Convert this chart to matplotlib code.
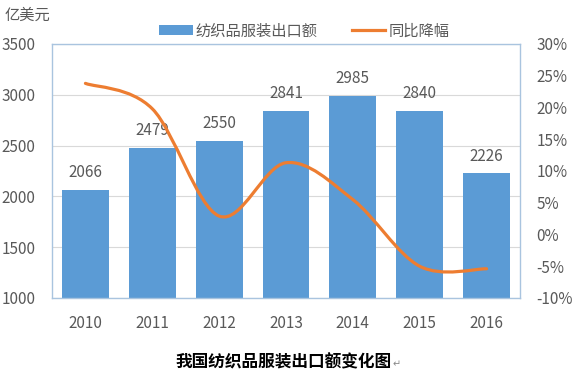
import numpy as np
import matplotlib
matplotlib.use("Agg")
import matplotlib.pyplot as plt
from matplotlib.path import Path
from matplotlib.patches import PathPatch
from matplotlib.lines import Line2D
from matplotlib.patches import Patch

plt.rcParams['font.family'] = ['Noto Sans CJK SC', 'DejaVu Sans']

years = ['2010', '2011', '2012', '2013', '2014', '2015', '2016']
exports = [2066, 2479, 2550, 2841, 2985, 2840, 2226]
growth = [23.8, 19.8, 2.9, 11.3, 5.5, -5.0, -5.4]

BLUE = '#5B9BD5'
ORANGE = '#ED7D31'
GREY = '#595959'
FRAME = '#A9C4DF'


def smooth_path(xs, ys):
    # excel-like smoothed line: bezier segments through each point
    pts = np.column_stack([xs, ys]).astype(float)
    n = len(pts)
    verts = [pts[0]]
    codes = [Path.MOVETO]
    for i in range(n - 1):
        p0 = pts[max(i - 1, 0)]
        p1 = pts[i]
        p2 = pts[i + 1]
        p3 = pts[min(i + 2, n - 1)]
        c1 = p1 + (p2 - p0) / 6.0
        c2 = p2 - (p3 - p1) / 6.0
        verts += [c1, c2, p2]
        codes += [Path.CURVE4] * 3
    return Path(verts, codes)


fig = plt.figure(figsize=(5.74, 3.74), dpi=100)
ax = fig.add_axes([52 / 574, 1 - 298 / 374, 468 / 574, 254 / 374])
x = np.arange(len(years))

ax.bar(x, exports, width=0.7, color=BLUE, zorder=2)
ax.set_xlim(-0.5, len(years) - 0.5)
ax.set_ylim(1000, 3500)
ax.set_yticks(range(1000, 3501, 500))
ax.set_xticks(x)
ax.set_xticklabels(years)
ax.grid(axis='y', color='#D9D9D9', lw=0.8, zorder=0)
ax.set_axisbelow(True)
ax.tick_params(axis='both', length=0, colors=GREY, labelsize=11)
ax.tick_params(axis='x', pad=12)
ax.tick_params(axis='y', pad=12)
for s in ax.spines.values():
    s.set_color(FRAME)
    s.set_linewidth(1.0)

for xi, v in zip(x, exports):
    ax.annotate(str(v), (xi, v), xytext=(0, 12.5), textcoords='offset points',
                ha='center', va='center', fontsize=11, color=GREY)

ax2 = ax.twinx()
ax2.set_ylim(-10, 30)
ax2.set_yticks(range(-10, 31, 5))
ax2.set_yticklabels([f'{t}%' for t in range(-10, 31, 5)])
ax2.tick_params(axis='y', length=0, colors=GREY, labelsize=11, pad=12)
for s in ax2.spines.values():
    s.set_visible(False)
ax2.add_patch(PathPatch(smooth_path(x, growth), fill=False, edgecolor=ORANGE,
                        lw=2.3, capstyle='round', joinstyle='round', zorder=3))

handles = [Patch(facecolor=BLUE, edgecolor='none'),
           Line2D([0], [0], color=ORANGE, lw=2.3)]
fig.legend(handles, ['纺织品服装出口额', '同比降幅'], loc='center',
           bbox_to_anchor=(0.53, 1 - 31 / 374), ncol=2, frameon=False,
           fontsize=11, labelcolor=GREY, handlelength=2.2, handleheight=0.55,
           handletextpad=0.2, columnspacing=2.2)

fig.text(5 / 574, 1 - 15 / 374, '亿美元', fontsize=11, color=GREY,
         ha='left', va='center')
fig.text(284 / 574, 1 - 362 / 374, '我国纺织品服装出口额变化图', fontsize=12,
         fontweight='bold', color='black', ha='center', va='center')
fig.text(393 / 574, 1 - 364 / 374, '↵', fontsize=7, color='#888888',
         ha='left', va='center', family=['DejaVu Sans'])

fig.savefig('out.png', dpi=100)
